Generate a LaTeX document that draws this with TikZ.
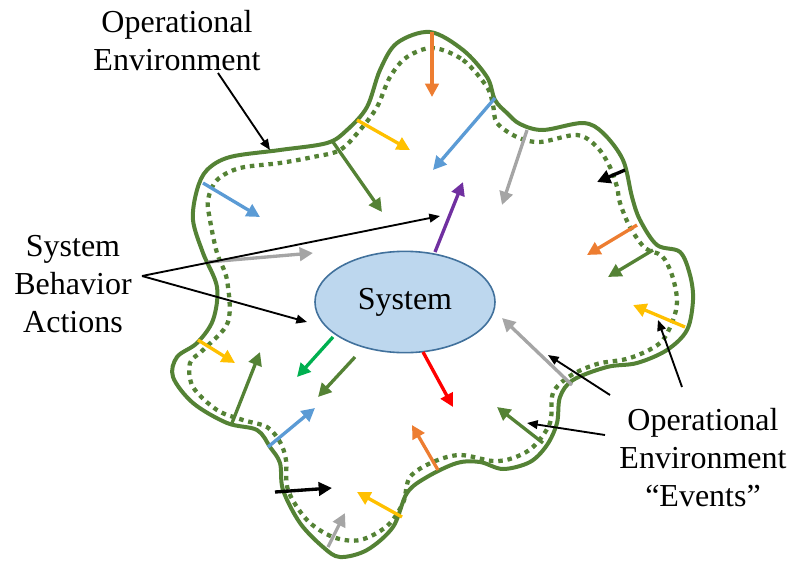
\documentclass[tikz,border=0pt]{standalone}
\usepackage{fontspec}
\setmainfont{Liberation Serif}
\usetikzlibrary{arrows.meta,shapes.geometric}

\definecolor{envgreen}{HTML}{548235}
\definecolor{evorange}{HTML}{ED7D31}
\definecolor{evyellow}{HTML}{FFC000}
\definecolor{evblue}{HTML}{5B9BD5}
\definecolor{evgray}{HTML}{A5A5A5}
\definecolor{evpurple}{HTML}{7030A0}
\definecolor{evlime}{HTML}{00B050}
\definecolor{evred}{HTML}{FF0000}
\definecolor{sysfill}{HTML}{BDD7EE}
\definecolor{sysedge}{HTML}{41719C}

\begin{document}
\begin{tikzpicture}[x=0.75pt,y=-0.75pt,
  envline/.style={draw=envgreen, line width=3pt, line join=round},
  envdots/.style={draw=envgreen, line width=3.2pt, dash pattern=on 3.4pt off 3.6pt},
  evt/.style={line width=2.5pt, -{Triangle[length=10pt,width=10pt]}},
  callout/.style={line width=1.4pt, -{Triangle[length=8pt,width=6.5pt]}},
  lbl/.style={font=\fontsize{24}{28.5}\selectfont, align=center, inner sep=0pt}]
\useasboundingbox (0,0) rectangle (792,561);

% outer boundary of the operational environment
\draw[envline] plot[smooth cycle, tension=0.55] coordinates {
  (430,32) (463,50) (487,77) (495,100) (507,113) (520,124) (543,130)
  (583,123) (603,133) (623,160) (632,197) (640,220) (657,245) (680,252)
  (690,275) (693,300) (687,330) (667,350) (637,363) (607,367) (573,380)
  (560,397) (557,423) (547,445) (530,462) (503,469) (480,462) (457,463)
  (427,477) (407,493) (393,527) (367,550) (340,557) (323,547) (300,523)
  (283,490) (280,463) (270,447) (257,430) (227,423) (193,403) (173,377)
  (177,357) (197,343) (213,320) (217,287) (203,253) (193,220) (197,190)
  (207,170) (230,157) (280,150) (327,143) (347,130) (367,107) (380,70)
  (397,43)};

% inner dotted boundary
\draw[envdots] plot[smooth cycle, tension=0.55] coordinates {
  (433,48) (463,60) (487,87) (493,105) (497,123) (517,137) (540,142)
  (577,135) (597,147) (610,167) (617,187) (620,203) (630,227) (645,248)
  (662,256) (672,275) (677,300) (673,320) (660,343) (630,358) (597,364)
  (570,376) (553,393) (550,423) (533,447) (513,458) (493,461) (460,455)
  (433,462) (410,477) (403,503) (387,526) (360,540) (333,537) (307,520)
  (288,490) (286,460) (280,442) (267,427) (243,420) (217,410) (193,387)
  (190,363) (203,350) (228,322) (227,280) (217,253) (210,220) (208,200)
  (217,180) (240,168) (280,163) (313,157) (340,150) (360,130) (377,107)
  (390,77) (407,57)};

% the system
\node[ellipse, draw=sysedge, fill=sysfill, line width=1.2pt,
      minimum width=135pt, minimum height=76pt, inner sep=0pt,
      font=\fontsize{24}{28.5}\selectfont] (sys) at (405,302) {System};

% events entering from the environment
\draw[evt, evorange] (432,32) -- (432,97);
\draw[evt, evyellow] (357,120) -- (410,150);
\draw[evt, evblue]   (495,98) -- (433,170);
\draw[evt, envgreen] (333,142) -- (382,212);
\draw[evt, evblue]   (203,183) -- (260,217);
\draw[evt, evgray]   (527,130) -- (502,205);
\draw[evt, black]    (625,170) -- (597,182);
\draw[evt, evorange] (637,225) -- (587,255);
\draw[evt, envgreen] (653,250) -- (608,277);
\draw[evt, evyellow] (685,327) -- (633,305);
\draw[evt, evgray]   (208,262) -- (313,253);
\draw[evt, evyellow] (198,340) -- (235,363);
\draw[evt, envgreen] (232,423) -- (260,352);
\draw[evt, evblue]   (268,447) -- (315,408);
\draw[evt, evorange] (438,470) -- (412,425);
\draw[evt, envgreen] (543,443) -- (497,407);
\draw[evt, black]    (275,492) -- (332,488);
\draw[evt, evyellow] (402,517) -- (357,492);
\draw[evt, evgray]   (328,547) -- (345,513);
\draw[evt, evgray]   (572,385) -- (502,318);

% actions leaving the system
\draw[evt, evpurple] (435,252) -- (463,182);
\draw[evt, evlime]   (333,337) -- (297,377);
\draw[evt, envgreen] (355,357) -- (318,397);
\draw[evt, evred]    (423,352) -- (453,407);

% labels
\node[lbl] (envlbl) at (177,41) {Operational\\Environment};
\node[lbl] (sbalbl) at (73,284) {System\\Behavior\\Actions};
\node[lbl] (evlbl)  at (703,458) {Operational\\Environment\\“Events”};

% callout targets
\coordinate (envtip) at (270,150);
\coordinate (acttipA) at (440,216);
\coordinate (acttipB) at (307,322);
\coordinate (evtipA) at (548,355);
\coordinate (evtipB) at (658,320);
\coordinate (evtipC) at (527,423);

\draw[callout] ([shift={(41,32)}]envlbl.center) -- (envtip);
\draw[callout] ([shift={(69,-8)}]sbalbl.center) -- (acttipA);
\draw[callout] ([shift={(69,-8)}]sbalbl.center) -- (acttipB);
\draw[callout] ([shift={(-93,-63)}]evlbl.center) -- (evtipA);
\draw[callout] ([shift={(-21,-71)}]evlbl.center) -- (evtipB);
\draw[callout] ([shift={(-98,-23)}]evlbl.center) -- (evtipC);
\end{tikzpicture}
\end{document}
